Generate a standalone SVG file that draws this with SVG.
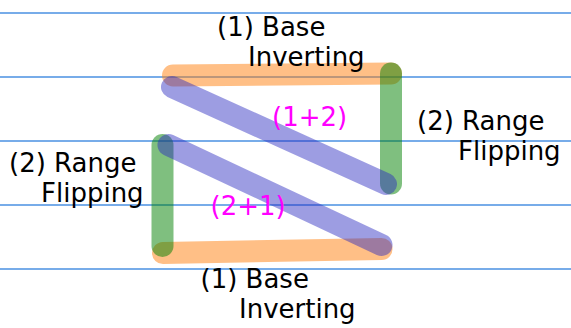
<svg xmlns="http://www.w3.org/2000/svg" width="571" height="328" viewBox="0 0 571 328">
<style>
.grid{stroke:#4a90e2;stroke-width:1.3}
.band{fill:none;stroke-width:22;stroke-linecap:round}
.o{stroke:#ff7f0e;stroke-opacity:0.5}
.g{stroke:#008000;stroke-opacity:0.5}
.p{stroke:#2a2ac0;stroke-opacity:0.46}
.t{font-family:"DejaVu Sans",sans-serif;font-size:26px;fill:#000}
.m{font-family:"DejaVu Sans",sans-serif;font-size:26px;fill:#ff00ff}
</style>
<rect width="571" height="328" fill="#fff"/>
<g id="gridlines">
<line class="grid" x1="0" y1="13" x2="571" y2="13"/>
<line class="grid" x1="0" y1="77" x2="571" y2="77"/>
<line class="grid" x1="0" y1="141" x2="571" y2="141"/>
<line class="grid" x1="0" y1="205" x2="571" y2="205"/>
<line class="grid" x1="0" y1="269" x2="571" y2="269"/>
</g>
<g id="connectors">
<line class="band o" x1="173" y1="75.5" x2="391" y2="73.5"/>
<line class="band o" x1="163" y1="253" x2="381.5" y2="249"/>
<line class="band g" x1="391" y1="73.5" x2="391" y2="183.5"/>
<line class="band g" x1="162.5" y1="145" x2="162.5" y2="246"/>
<line class="band p" x1="172" y1="87" x2="386" y2="184"/>
<line class="band p" x1="168.5" y1="145" x2="381.5" y2="245"/>
</g>
<g id="label-top"><text class="t" x="217" y="36">(1) Base</text><text class="t" x="248" y="66">Inverting</text></g>
<g id="label-bottom"><text class="t" x="200.5" y="288">(1) Base</text><text class="t" x="239" y="318">Inverting</text></g>
<g id="label-left"><text class="t" x="9" y="172">(2) Range</text><text class="t" x="41" y="202">Flipping</text></g>
<g id="label-right"><text class="t" x="417" y="130">(2) Range</text><text class="t" x="458" y="160">Flipping</text></g>
<g id="label-12"><text class="m" x="272" y="126">(1+2)</text></g>
<g id="label-21"><text class="m" x="210.5" y="215">(2+1)</text></g>
</svg>
